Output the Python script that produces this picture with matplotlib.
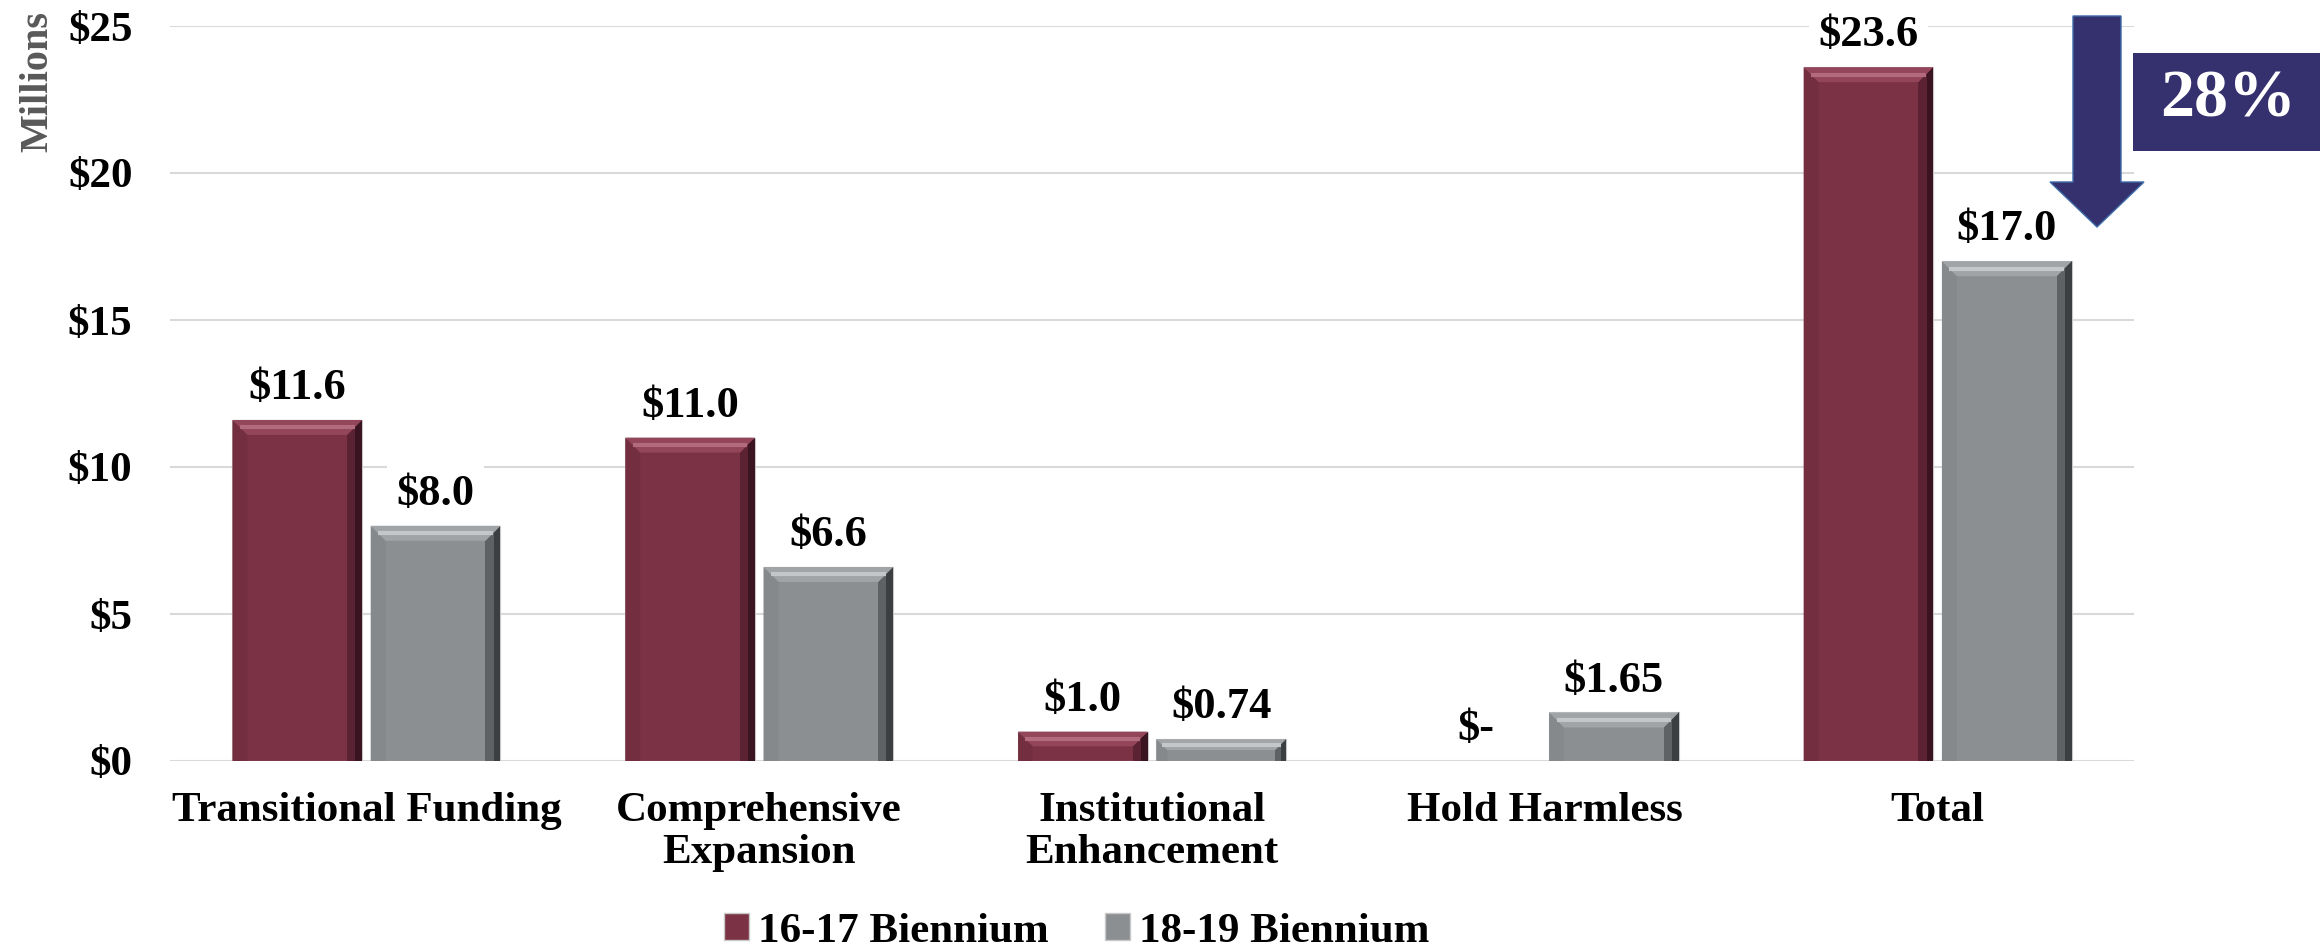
import numpy as np
import matplotlib
matplotlib.use("Agg")
import matplotlib.pyplot as plt
from matplotlib.patches import Polygon, Rectangle, Patch

plt.rcParams['font.family'] = ['Liberation Serif', 'DejaVu Serif']
plt.rcParams['font.weight'] = 'bold'

categories = ["Transitional Funding", "Comprehensive\nExpansion", "Institutional\nEnhancement",
              "Hold Harmless", "Total"]
series_names = ["16-17 Biennium", "18-19 Biennium"]
b1617 = [11.6, 11.0, 1.0, 0.0, 23.6]
b1819 = [8.0, 6.6, 0.74, 1.65, 17.0]
yticks = [0, 5, 10, 15, 20, 25]
change_label = "28%"

# base, top bevel, top highlight, left bevel, right bevel, right outer
red = ("#7A3244", "#934659", "#B26A7E", "#732F40", "#5A2232", "#3A1420")
grey = ("#8B8F92", "#A0A4A7", "#C3C7CA", "#85898C", "#5E6265", "#3C3F42")


def fmt(v):
    if v == 0:
        return "$-"
    if round(v, 1) == v:
        return f"${v:.1f}"
    return f"${v:.2f}"


W, H = 2320, 951
FS = 31
fig = plt.figure(figsize=(W / 100, H / 100), dpi=100)
ax = fig.add_axes([170 / W, 1 - 761 / H, (2134 - 170) / W, (761 - 26) / H])

x = np.arange(len(categories))
width = 0.33
off = 0.176
ax.set_xlim(-0.5, len(categories) - 0.5)
ax.set_ylim(0, 25)

# pixel -> data scale for the bevel size
px_x = len(categories) / (2134 - 170)
px_y = 25 / (761 - 26)


def bevel_bar(xc, h, cols):
    if h <= 0:
        return
    x0, x1 = xc - width / 2, xc + width / 2
    ax.bar(xc, h, width, color=cols[0], edgecolor="#C8C8C8", linewidth=0.8, zorder=2)
    b = min(15, (h / px_y) / 2)
    dx, dy = b * px_x, b * px_y
    top = [(x0, h), (x1, h), (x1 - dx, h - dy), (x0 + dx, h - dy)]
    left = [(x0, h), (x0 + dx, h - dy), (x0 + dx, 0), (x0, 0)]
    right = [(x1, h), (x1, 0), (x1 - dx, 0), (x1 - dx, h - dy)]
    right_out = [(x1, h), (x1, 0), (x1 - dx * 0.45, 0), (x1 - dx * 0.45, h - dy * 0.45)]
    ax.add_patch(Polygon(left, closed=True, fc=cols[3], ec="none", zorder=3))
    ax.add_patch(Polygon(right, closed=True, fc=cols[4], ec="none", zorder=3))
    ax.add_patch(Polygon(right_out, closed=True, fc=cols[5], ec="none", zorder=3))
    ax.add_patch(Polygon(top, closed=True, fc=cols[1], ec="none", zorder=3))
    ax.plot([x0 + dx * 0.5, x1 - dx * 0.5], [h - dy * 0.5, h - dy * 0.5],
            color=cols[2], lw=3, solid_capstyle="butt", zorder=3)


for i in range(len(categories)):
    for xc, v, cols in ((x[i] - off, b1617[i], red), (x[i] + off, b1819[i], grey)):
        bevel_bar(xc, v, cols)
        ax.annotate(fmt(v), (xc, v), xytext=(0, 23), textcoords="offset points",
                    ha="center", va="center", fontsize=FS + 1, fontweight="bold",
                    bbox=dict(fc="white", ec="none", pad=7), zorder=4)

ax.set_yticks(yticks)
ax.set_yticklabels([f"${t}" for t in yticks])
ax.set_xticks(x)
ax.set_xticklabels(categories, linespacing=1.15)
ax.tick_params(axis="both", length=0, labelsize=FS)
ax.tick_params(axis="y", pad=27)
ax.tick_params(axis="x", pad=22)
ax.yaxis.grid(True, color="#D9D9D9", linewidth=1.5, zorder=0)
ax.set_axisbelow(True)
for s in ax.spines.values():
    s.set_visible(False)

fig.text(38 / W, 1 - 82 / H, "Millions", rotation=90, ha="center", va="center",
         fontsize=29, fontweight="bold", color="#595959")

# down arrow and percent box
navy = "#35306E"
arrow = [(2073, 16), (2121, 16), (2121, 182), (2144, 182), (2097, 227),
         (2050, 182), (2073, 182)]
arrow = [(px / W, 1 - py / H) for px, py in arrow]
fig.patches.append(Polygon(arrow, closed=True, fc=navy, ec="#3D6BA8", lw=1,
                           transform=fig.transFigure, figure=fig))
fig.patches.append(Rectangle((2133 / W, 1 - 151 / H), 187 / W, 98 / H, fc=navy, ec="none",
                             transform=fig.transFigure, figure=fig))
fig.text(2228 / W, 1 - 100 / H, change_label, ha="center", va="center", color="white",
         fontsize=49, fontweight="bold")

handles = [Patch(fc=red[0], ec="#C8C8C8"), Patch(fc=grey[0], ec="#C8C8C8")]
fig.legend(handles, series_names, loc="center", bbox_to_anchor=(0.464, 0.02), ncol=2,
           frameon=False, fontsize=FS, handlelength=0.6, handleheight=0.6,
           handletextpad=0.2, columnspacing=1.3)

fig.savefig("out.png", dpi=100)
